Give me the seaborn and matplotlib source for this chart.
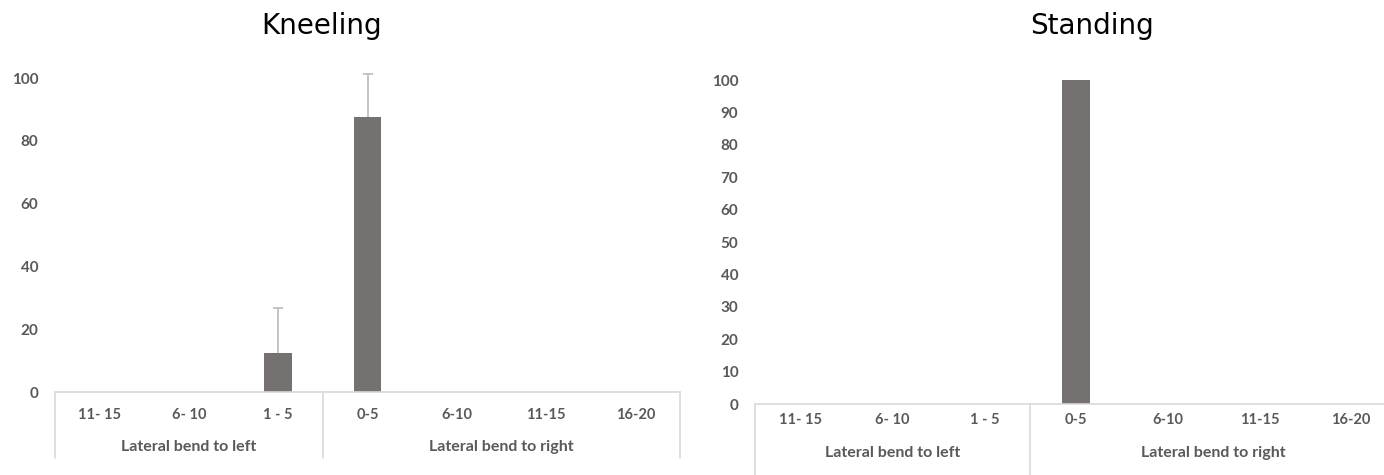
"""
Lateral bend distribution, kneeling vs standing.
Two Excel-style bar charts with a two-level category axis.
"""

import matplotlib.pyplot as plt
import pandas as pd
import seaborn as sns
from matplotlib.transforms import blended_transform_factory

categories = ["11- 15", "6- 10", "1 - 5", "0-5", "6-10", "11-15", "16-20"]
groups = ["Lateral bend to left", "Lateral bend to right"]
group_sizes = [3, 4]

kneeling = [0, 0, 12.5, 87.5, 0, 0, 0]
kneeling_err = [0, 0, 14.4, 13.9, 0, 0, 0]
standing = [0, 0, 0, 100, 0, 0, 0]

BAR = "#767171"
ERR = "#BFBFBF"
AXIS = "#D9D9D9"
TEXT = "#595959"
W, H = 1384, 475

sns.set_theme(style="white")
plt.rcParams["font.family"] = ["Lato", "DejaVu Sans"]


def draw_panel(ax, values, errors, yticks, lab_px, grp_px, line_px, ax_h_px):
    df = pd.DataFrame({"range": categories, "value": values})
    sns.barplot(data=df, x="range", y="value", order=categories, color=BAR,
                saturation=1, width=0.31, errorbar=None, linewidth=0, ax=ax)
    if errors is not None:
        idx = [i for i, e in enumerate(errors) if e > 0]
        _, caps, _ = ax.errorbar(idx, [values[i] for i in idx],
                                 yerr=[[0] * len(idx), [errors[i] for i in idx]],
                                 fmt="none", ecolor=ERR, elinewidth=1.3,
                                 capsize=3.5, capthick=1.3, zorder=0.5,
                                 clip_on=False)
        caps[0].set_visible(False)  # only the upper cap, like Excel "Plus"

    ax.set_xlim(-0.5, len(categories) - 0.5)
    ax.set_ylim(0, 100)
    ax.set_yticks(yticks, labels=[str(t) for t in yticks], fontweight="bold")
    ax.tick_params(axis="y", length=0, pad=12, labelsize=11, labelcolor=TEXT)
    ax.set_xticks([])
    ax.set_xlabel("")
    ax.set_ylabel("")
    for s in ("left", "top", "right"):
        ax.spines[s].set_visible(False)
    ax.spines["bottom"].set_color(AXIS)
    ax.spines["bottom"].set_linewidth(1.2)

    trans = blended_transform_factory(ax.transData, ax.transAxes)
    for i, c in enumerate(categories):
        ax.annotate(c, xy=(i, 0), xycoords=trans, xytext=(0, -lab_px * 0.72),
                    textcoords="offset points", ha="center", va="center",
                    fontsize=10.5, fontweight="bold", color=TEXT)
    start = -0.5
    edges = [start]
    for g, n in zip(groups, group_sizes):
        ax.annotate(g, xy=(start + n / 2, 0), xycoords=trans,
                    xytext=(0, -grp_px * 0.72), textcoords="offset points",
                    ha="center", va="center", fontsize=11.5, fontweight="bold",
                    color=TEXT)
        start += n
        edges.append(start)
    for x in edges:
        ax.plot([x, x], [0, -line_px / ax_h_px], transform=trans, color=AXIS,
                lw=1.2, clip_on=False)


fig = plt.figure(figsize=(W / 100, H / 100), dpi=100)

# left panel: axis line at y=392 px, 100 at y=78 px
ax_k = fig.add_axes([55 / W, (H - 392) / H, 625 / W, 314 / H])
draw_panel(ax_k, kneeling, kneeling_err, list(range(0, 101, 20)),
           lab_px=23, grp_px=55, line_px=66, ax_h_px=314)

# right panel: axis line at y=404 px, 100 at y=80 px (runs past the right edge)
ax_s = fig.add_axes([755 / W, (H - 404) / H, 642 / W, 324 / H])
draw_panel(ax_s, standing, None, list(range(0, 101, 10)),
           lab_px=16, grp_px=49, line_px=80, ax_h_px=324)

fig.text(322 / W, 1 - 26 / H, "Kneeling", family="DejaVu Sans",
         fontsize=20, ha="center", va="center", color="black")
fig.text(1092 / W, 1 - 26 / H, "Standing", family="DejaVu Sans",
         fontsize=20, ha="center", va="center", color="black")

fig.savefig("out.png", dpi=100)
plt.close(fig)
